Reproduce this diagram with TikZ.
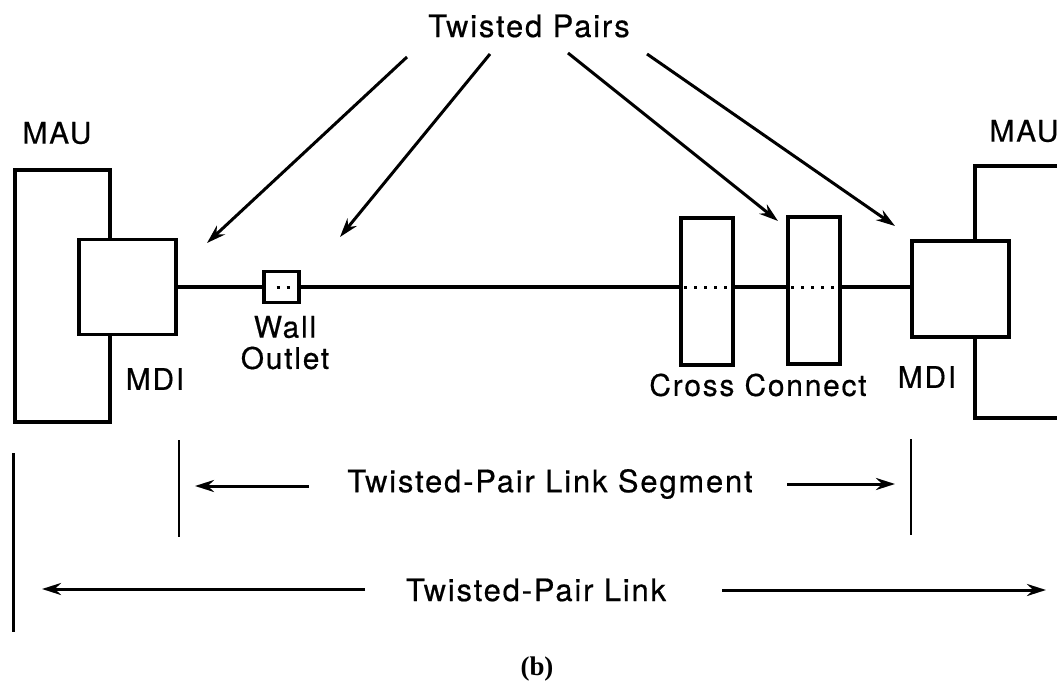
\documentclass[tikz,border=0pt]{standalone}
\usepackage{fontspec}
\setmainfont{TeX Gyre Heros}[LetterSpace=6, FakeBold=0.5]
\newfontfamily\capfont{Liberation Serif}[BoldFont={Liberation Serif Bold}]
\usetikzlibrary{arrows.meta}
\tikzset{
  ln/.style={line width=3.2bp},
  box/.style={draw, line width=3.2bp, fill=white, inner sep=0pt},
  lbl/.style={inner sep=0pt, font=\fontsize{30}{34}\selectfont},
  big/.style={inner sep=0pt, font=\fontsize{31}{36}\selectfont},
  arr/.style={line width=3bp, -{Stealth[length=19bp,width=12bp]}},
  dots/.style={line width=3bp, dash pattern=on 3bp off 7bp},
  tick/.style={line width=2.6bp}
}
\begin{document}
\begin{tikzpicture}[x=1bp,y=-1bp]
\useasboundingbox (0,0) rectangle (1057,686);
% MAU boxes
\node[box, minimum width=95bp, minimum height=252bp] (mauL) at (62.5,296) {};
\node[box, minimum width=130bp, minimum height=252bp] (mauR) at (1040,292) {};
% MDI boxes
\node[box, minimum width=97bp, minimum height=95bp] (mdiL) at (127.5,287) {};
\node[box, minimum width=97bp, minimum height=96bp] (mdiR) at (960.5,289) {};
% wall outlet and cross connects
\node[box, minimum width=35bp, minimum height=31bp] (wall) at (281.5,287) {};
\node[box, minimum width=52bp, minimum height=147bp] (cc1) at (707,291.5) {};
\node[box, minimum width=52bp, minimum height=147bp] (cc2) at (814,290.5) {};
% main line
\draw[ln] (mdiL.east) -- (wall.west);
\draw[ln] (wall.east) -- (cc1.west |- wall.east);
\draw[ln] (cc1.east |- wall.east) -- (cc2.west |- wall.east);
\draw[ln] (cc2.east |- wall.east) -- (mdiR.west |- wall.east);
% dotted internals
\draw[dots] ([xshift=-5bp]wall.center) -- ([xshift=9bp]wall.center);
\draw[dots] ([xshift=5bp]cc1.west |- wall.east) -- ([xshift=-3bp]cc1.east |- wall.east);
\draw[dots] ([xshift=5bp]cc2.west |- wall.east) -- ([xshift=-3bp]cc2.east |- wall.east);
% labels
\node[lbl] (tmauL) at (57,133) {MAU};
\node[lbl] (tmauR) at (1024,131) {MAU};
\node[lbl] (tmdiL) at (155,379) {MDI};
\node[lbl] (tmdiR) at (927,377) {MDI};
\node[lbl] (twall) at (285,327) {Wall};
\node[lbl] (toutlet) at (285,358) {Outlet};
\node[lbl] (tcc) at (758,385) {Cross Connect};
\node[big] (ttp) at (529,26) {Twisted Pairs};
% twisted pairs arrows
\coordinate (s1) at (407,57);
\coordinate (s2) at (490,54);
\coordinate (s3) at (568,53);
\coordinate (s4) at (647,54);
\coordinate (e1) at (207,243);
\coordinate (e2) at (340,237);
\coordinate (e3) at (778,221);
\coordinate (e4) at (895,226);
\draw[arr] (s1) -- (e1);
\draw[arr] (s2) -- (e2);
\draw[arr] (s3) -- (e3);
\draw[arr] (s4) -- (e4);
% bottom dimension lines
\coordinate (segLt) at (179,440);
\coordinate (segLb) at (179,537);
\coordinate (segRt) at (911,439);
\coordinate (segRb) at (911,535);
\coordinate (lnkLt) at (13.5,453);
\coordinate (lnkLb) at (13.5,632);
\draw[tick] (segLt) -- (segLb);
\draw[tick] (segRt) -- (segRb);
\draw[tick] (lnkLt) -- (lnkLb);
\node[big] (tseg) at (550,484) {Twisted-Pair Link Segment};
\node[big] (tlink) at (536,590) {Twisted-Pair Link};
\coordinate (sa1) at (309,486);
\coordinate (sa2) at (195,486);
\coordinate (sb1) at (787,484);
\coordinate (sb2) at (895,484);
\coordinate (la1) at (365,589);
\coordinate (la2) at (42,589);
\coordinate (lb1) at (722,590);
\coordinate (lb2) at (1046,590);
\draw[arr] (sa1) -- (sa2);
\draw[arr] (sb1) -- (sb2);
\draw[arr] (la1) -- (la2);
\draw[arr] (lb1) -- (lb2);
\node[inner sep=0pt, font=\capfont\bfseries\fontsize{27}{30}\selectfont] (cap) at (537,669) {(b)};
\end{tikzpicture}
\end{document}
